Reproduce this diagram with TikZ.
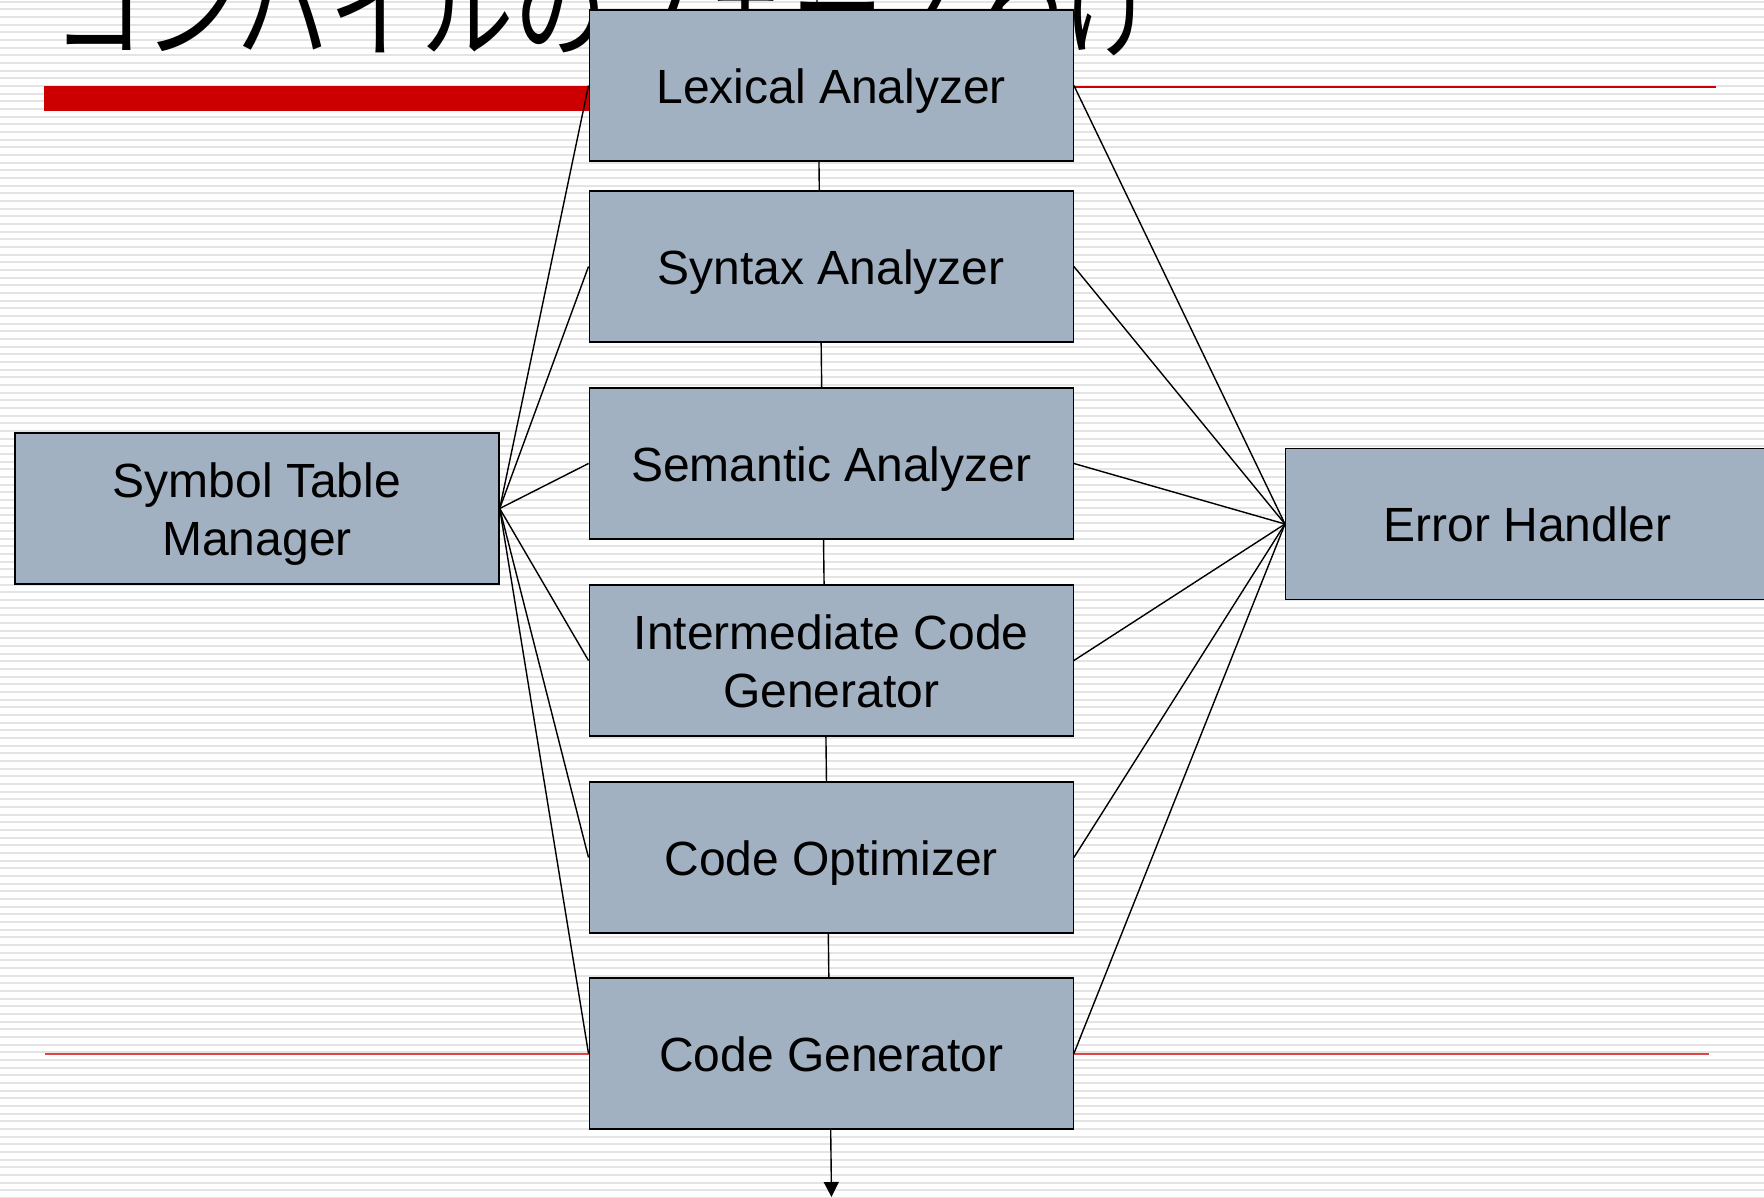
\documentclass[tikz,border=0pt]{standalone}
\usepackage{fontspec}
\setmainfont{Liberation Sans}
\newfontfamily\cjk{Noto Sans CJK JP}
\usetikzlibrary{arrows.meta}
\definecolor{boxfill}{RGB}{162,177,193}
\definecolor{stripe}{RGB}{228,228,228}
\definecolor{slidered}{RGB}{204,0,0}
\definecolor{lightred}{RGB}{222,70,70}
\tikzset{
  phase/.style={draw=black, line width=1.4pt, fill=boxfill, inner sep=0pt,
    minimum width=484pt, minimum height=151pt, align=center,
    text height=35pt, text depth=0pt,
    font=\fontsize{48}{58}\selectfont},
  twoline/.style={text height=93pt, text depth=0pt},
  link/.style={draw=black, line width=1.4pt},
}
\begin{document}
\begin{tikzpicture}[x=1pt,y=-1pt]
\useasboundingbox (0,0) rectangle (1764,1197);
\clip (0,0) rectangle (1764,1197);
% striped slide background
\fill[white] (0,0) rectangle (1764,1197);
\foreach \k in {0,...,156}
  \fill[stripe] (0,{0.6+\k*7.67}) rectangle (1764,{2.6+\k*7.67});
% title rules
\fill[slidered] (44,86) rectangle (600,111);
\draw[slidered, line width=1.5pt] (44,87) -- (1716,87);
\draw[lightred, line width=1.2pt] (45,1054) -- (1709,1054);
% title
\node[anchor=base west, inner sep=0pt, xscale=1.05, yscale=1.25,
      font=\cjk\fontsize{88}{100}\selectfont]
  (title) at (52,49) {コンパイルのフェーズわけ};
% main flow line through the phases
\coordinate (src) at (817,0);
\coordinate (sink) at (831.5,1197);
\draw[link, -{Triangle[length=15pt,width=15pt]}] (src) -- (sink);
% phases
\node[phase] (lex) at (831.2,85.5) {Lexical Analyzer};
\node[phase] (syn) at (831.2,266.5) {Syntax Analyzer};
\node[phase] (sem) at (831.2,463.5) {Semantic Analyzer};
\node[phase, twoline] (icg) at (831.2,660.5) {Intermediate Code\\Generator};
\node[phase] (opt) at (831.2,857.5) {Code Optimizer};
\node[phase] (gen) at (831.2,1053.5) {Code Generator};
% side components
\node[phase, twoline] (sym) at (257,508.5) {Symbol Table\\Manager};
\node[phase] (err) at (1527.7,524) {Error Handler};
% fan-out links
\foreach \p in {lex,syn,sem,icg,opt,gen} {
  \draw[link] (sym.east) -- (\p.west);
  \draw[link] (err.west) -- (\p.east);
}
\end{tikzpicture}
\end{document}
